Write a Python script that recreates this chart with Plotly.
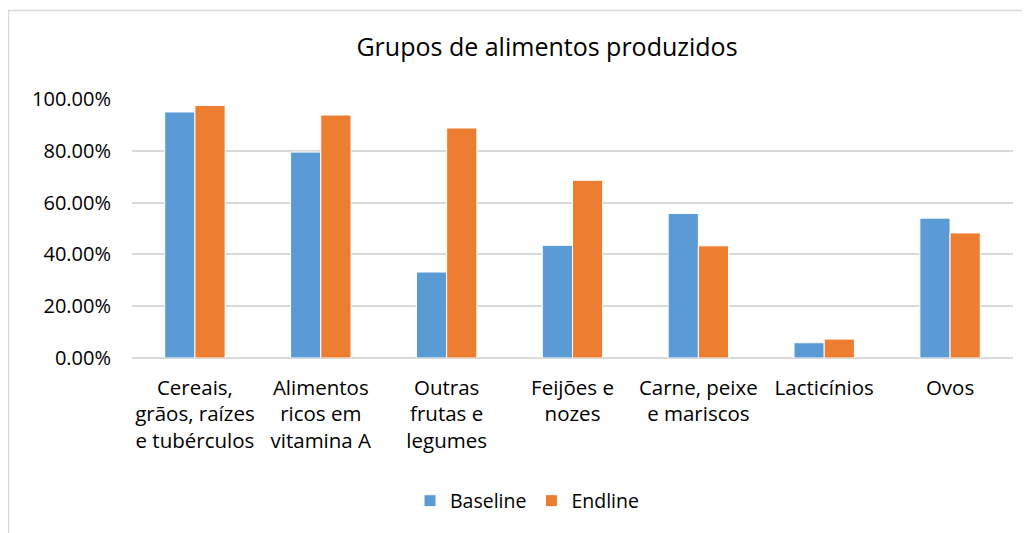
import plotly.graph_objects as go

categories = [
    "Cereais,<br>grãos, raízes<br>e tubérculos",
    "Alimentos<br>ricos em<br>vitamina A",
    "Outras<br>frutas e<br>legumes",
    "Feijões e<br>nozes",
    "Carne, peixe<br>e mariscos",
    "Lacticínios",
    "Ovos",
]
baseline = [0.950, 0.795, 0.332, 0.435, 0.558, 0.059, 0.540]
endline = [0.975, 0.938, 0.888, 0.686, 0.433, 0.073, 0.483]
y_ticks = [0, 0.2, 0.4, 0.6, 0.8, 1.0]

OFF = 8  # page body margin
W, H = 1030 - OFF, 533 - OFF
L, R, T, B = 132 - OFF, 17, 99 - OFF, 175
pw, ph = W - L - R, H - T - B

def px_to_paper_x(px):
    return (px - OFF - L) / pw

def px_to_paper_y(py):
    return (H - B - (py - OFF)) / ph

FONT = "Open Sans"

fig = go.Figure()
fig.add_trace(go.Bar(name="Baseline", x=categories, y=baseline,
                     marker=dict(color="#5B9BD5", line=dict(color="white", width=1))))
fig.add_trace(go.Bar(name="Endline", x=categories, y=endline,
                     marker=dict(color="#ED7D31", line=dict(color="white", width=1))))

fig.update_layout(
    width=W, height=H,
    margin=dict(l=L, r=R, t=T, b=B),
    paper_bgcolor="white", plot_bgcolor="white",
    barmode="group", bargap=0.52, bargroupgap=0,
    font=dict(family=FONT, size=19, color="#000000"),
    title=dict(text="Grupos de alimentos produzidos", x=px_to_paper_x(547), xref="paper",
               xanchor="center", y=1 - (47 - OFF) / H, yanchor="middle",
               font=dict(family=FONT, size=25, color="#000000")),
    xaxis=dict(showgrid=False, showline=False, ticks="", tickfont=dict(size=20.5),
               ticklabelstandoff=15),
    yaxis=dict(range=[0, 1.0], tickvals=y_ticks, tickformat=".2%",
               showgrid=True, gridcolor="#d9d9d9", gridwidth=1.5,
               zeroline=True, zerolinecolor="#d9d9d9", zerolinewidth=1.5,
               showline=False, ticks="", tickfont=dict(size=20), ticklabelstandoff=20),
    legend=dict(orientation="h", x=px_to_paper_x(527), xanchor="center",
                y=px_to_paper_y(501), yanchor="middle", yref="paper",
                font=dict(family=FONT, size=19.5), traceorder="normal",
                itemwidth=30),
    showlegend=True,
)

fig.add_shape(type="rect", xref="paper", yref="paper",
              x0=px_to_paper_x(8.5), x1=px_to_paper_x(1100),
              y0=px_to_paper_y(600), y1=px_to_paper_y(10.5),
              line=dict(color="#d9d9d9", width=1.5), fillcolor="rgba(0,0,0,0)", layer="below")

fig.write_html("out.html")
